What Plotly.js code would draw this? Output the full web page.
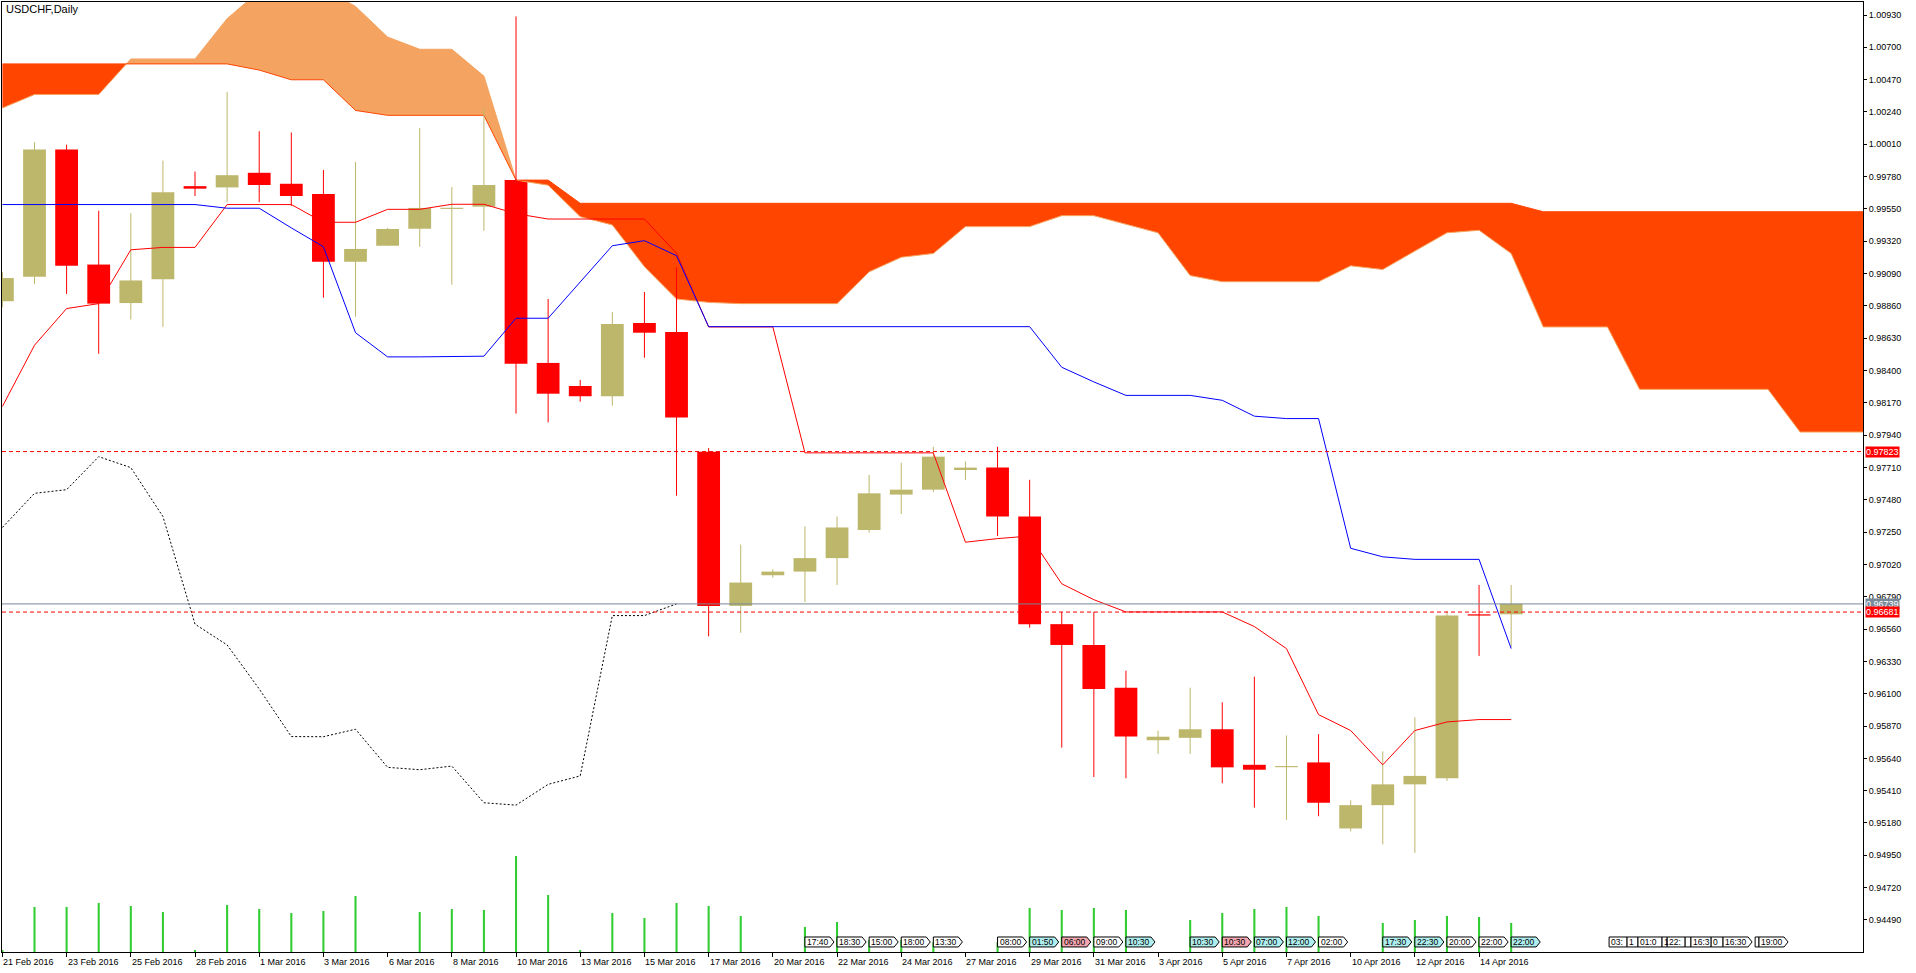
<!DOCTYPE html>
<html><head><meta charset="utf-8">
<script src="https://cdn.plot.ly/plotly-3.0.1.min.js"></script>
<style>html,body{margin:0;padding:0;background:#fff;overflow:hidden}#chart{width:1916px;height:973px}</style>
</head><body><div id="chart"></div>
<script>
const chartTitle = "USDCHF,Daily";
const barDates = ["21 Feb 2016","22 Feb 2016","23 Feb 2016","24 Feb 2016","25 Feb 2016","26 Feb 2016","28 Feb 2016","29 Feb 2016",
 "1 Mar 2016","2 Mar 2016","3 Mar 2016","4 Mar 2016","6 Mar 2016","7 Mar 2016","8 Mar 2016","9 Mar 2016","10 Mar 2016","11 Mar 2016",
 "13 Mar 2016","14 Mar 2016","15 Mar 2016","16 Mar 2016","17 Mar 2016","18 Mar 2016","20 Mar 2016","21 Mar 2016","22 Mar 2016",
 "23 Mar 2016","24 Mar 2016","25 Mar 2016","27 Mar 2016","28 Mar 2016","29 Mar 2016","30 Mar 2016","31 Mar 2016","1 Apr 2016",
 "3 Apr 2016","4 Apr 2016","5 Apr 2016","6 Apr 2016","7 Apr 2016","8 Apr 2016","10 Apr 2016","11 Apr 2016","12 Apr 2016",
 "13 Apr 2016","14 Apr 2016","15 Apr 2016"];
const openP  = [0.98893,0.99067,0.99972,0.99154,0.98880,0.99050,0.99712,0.99703,0.99807,0.99729,0.99656,0.99174,0.99288,0.99409,0.99550,0.99566,
 0.99756,0.98454,0.98290,0.98217,0.98738,0.98674,0.97822,0.96725,0.96943,0.96969,0.97065,0.97265,0.97517,0.97552,0.97692,0.97709,
 0.97361,0.96595,0.96447,0.96143,0.95769,0.95786,0.95847,0.95594,0.95577,0.95611,0.95141,0.95307,0.95455,0.95498,0.96665,0.96665];
const highP  = [0.99100,1.00025,1.00007,0.99537,0.99520,0.99894,0.99816,1.00382,1.00103,1.00094,0.99827,0.99884,0.99414,1.00126,0.99706,1.00268,
 1.00920,0.98909,0.98333,0.98816,0.98959,0.99135,0.97848,0.97161,0.96987,0.97291,0.97361,0.97657,0.97744,0.97857,0.97753,0.97857,
 0.97622,0.96682,0.96682,0.96264,0.95838,0.96143,0.96039,0.96221,0.95803,0.95812,0.95342,0.95690,0.95933,0.96690,0.96874,0.96874];
const lowP   = [0.98850,0.99015,0.98945,0.98519,0.98763,0.98711,0.99642,0.99598,0.99598,0.99572,0.98918,0.98783,0.99288,0.99281,0.99011,0.99395,
 0.98093,0.98031,0.98178,0.98150,0.98491,0.97509,0.96508,0.96534,0.96926,0.96752,0.96874,0.97248,0.97379,0.97535,0.97622,0.97222,
 0.96570,0.95716,0.95507,0.95498,0.95672,0.95672,0.95463,0.95289,0.95202,0.95228,0.95120,0.95028,0.94967,0.95480,0.96369,0.96430];
const closeP = [0.99058,0.99972,0.99146,0.98876,0.99041,0.99668,0.99694,0.99790,0.99720,0.99642,0.99174,0.99265,0.99407,0.99557,0.99557,0.99720,
 0.98449,0.98235,0.98217,0.98731,0.98669,0.98066,0.96725,0.96891,0.96969,0.97065,0.97283,0.97526,0.97552,0.97787,0.97709,0.97361,
 0.96595,0.96447,0.96134,0.95795,0.95794,0.95847,0.95576,0.95559,0.95585,0.95324,0.95307,0.95455,0.95515,0.96656,0.96656,0.96739];
const volumes = [2000,45000,45000,49000,46000,40000,2000,47000,43000,39000,41000,56000,0,40000,43000,42000,96000,57000,2000,39000,34000,49000,
 46000,36000,0,25000,30000,12000,12000,10000,0,10000,44000,42000,44000,42000,0,32000,39000,43000,45000,36000,0,29000,32000,36000,35000,29000];
const tenkan = [0.98144,0.98580,0.98841,0.98876,0.99259,0.99276,0.99276,0.99581,0.99581,0.99581,0.99455,0.99455,0.99547,0.99547,0.99583,0.99583,
 0.99516,0.99478,0.99478,0.99478,0.99478,0.99234,0.98710,0.98710,0.98710,0.97814,0.97814,0.97814,0.97814,0.97814,0.97178,0.97204,
 0.97222,0.96882,0.96769,0.96682,0.96682,0.96682,0.96682,0.96578,0.96421,0.95951,0.95838,0.95594,0.95838,0.95899,0.95916,0.95916];
const kijun  = [0.99581,0.99581,0.99581,0.99581,0.99581,0.99581,0.99581,0.99555,0.99555,0.99415,0.99281,0.98669,0.98497,0.98497,0.98497,0.98502,
 0.98772,0.98772,0.99030,0.99288,0.99324,0.99217,0.98712,0.98712,0.98712,0.98712,0.98712,0.98712,0.98712,0.98712,0.98712,0.98712,
 0.98712,0.98423,0.98319,0.98223,0.98223,0.98223,0.98188,0.98075,0.98058,0.98058,0.97135,0.97074,0.97056,0.97056,0.97056,0.96421];
const chikou = [0.97283,0.97526,0.97552,0.97787,0.97709,0.97361,0.96595,0.96447,0.96134,0.95795,0.95794,0.95847,0.95576,0.95559,0.95585,0.95324,
 0.95307,0.95455,0.95515,0.96656,0.96656,0.96739];
const spanA  = [1.00268,1.00364,1.00364,1.00364,1.00617,1.00617,1.00617,1.00904,1.01100,1.01120,1.01120,1.00991,1.00773,1.00686,1.00686,1.00495,
 0.99755,0.99719,0.99495,0.99436,0.99139,0.98909,0.98885,0.98876,0.98876,0.98876,0.98876,0.99102,0.99206,0.99233,0.99424,0.99424,
 0.99424,0.99502,0.99502,0.99441,0.99380,0.99076,0.99032,0.99032,0.99032,0.99032,0.99145,0.99119,0.99250,0.99380,0.99398,0.99233,
 0.98710,0.98710,0.98710,0.98266,0.98266,0.98266,0.98266,0.98266,0.97962,0.97962,0.97962];
const spanB  = [1.00582,1.00582,1.00582,1.00582,1.00582,1.00582,1.00582,1.00582,1.00538,1.00469,1.00469,1.00251,1.00216,1.00216,1.00216,1.00216,
 0.99755,0.99755,0.99590,0.99590,0.99590,0.99590,0.99590,0.99590,0.99590,0.99590,0.99590,0.99590,0.99590,0.99590,0.99590,0.99590,
 0.99590,0.99590,0.99590,0.99590,0.99590,0.99590,0.99590,0.99590,0.99590,0.99590,0.99590,0.99590,0.99590,0.99590,0.99590,0.99590,
 0.99530,0.99530,0.99530,0.99530,0.99530,0.99530,0.99530,0.99530,0.99530,0.99530,0.99530];
const priceTicks = [1.00930,1.00700,1.00470,1.00240,1.00010,0.99780,0.99550,0.99320,0.99090,0.98860,0.98630,0.98400,0.98170,0.97940,
 0.97710,0.97480,0.97250,0.97020,0.96790,0.96560,0.96330,0.96100,0.95870,0.95640,0.95410,0.95180,0.94950,0.94720,0.94490];
const levelLines = [0.97823, 0.96681];
const bidPrice = 0.96739;
const eventBar  = [25,26,27,28,29,31,32,33,34,35,37,38,39,40,41,43,44,45,46,47,50.05,50.61,50.95,51.70,51.86,52.42,52.60,53.23,53.60,54.60,54.72];
const eventText = ["17:40","18:30","15:00","18:00","13:30","08:00","01:50","06:00","09:00","10:30","10:30","10:30","07:00","12:00","02:00",
 "17:30","22:30","20:00","22:00","22:00","03:","1","01:0","1","22:","","16:3","0","16:30","","19:00"];
const eventLevel = ["low","low","low","low","low","low","mid","high","low","mid","mid","high","mid","mid","low","mid","mid","low","low","mid",
 "low","low","low","low","low","low","low","low","low","low","low"];

const BULL = '#BDB76B', BEAR = '#FF0000';
const FONT = 'Liberation Sans, Arial, sans-serif';
const traces = [];
const idx = closeP.map((_, i) => i);

// cloud
(function(){
  const xs = [], ya = [], yb = [];
  for (let i = 0; i < spanA.length; i++) {
    xs.push(i); ya.push(spanA[i]); yb.push(spanB[i]);
    if (i < spanA.length - 1) {
      const d0 = spanA[i] - spanB[i], d1 = spanA[i+1] - spanB[i+1];
      if (d0 * d1 < 0) {
        const t = d0 / (d0 - d1);
        const v = spanA[i] + t * (spanA[i+1] - spanA[i]);
        xs.push(i + t); ya.push(v); yb.push(v);
      }
    }
  }
  const top = ya.map((v, k) => Math.max(v, yb[k]));
  const base = {mode:'lines', line:{width:0}, hoverinfo:'skip'};
  traces.push(Object.assign({x:xs, y:yb}, base));
  traces.push(Object.assign({x:xs, y:top, fill:'tonexty', fillcolor:'#F4A460'}, base));
  traces.push(Object.assign({x:xs, y:ya}, base));
  traces.push(Object.assign({x:xs, y:top, fill:'tonexty', fillcolor:'#FF4500'}, base));
  const sx = spanA.map((_, i) => i);
  traces.push({x:sx, y:spanA, mode:'lines', line:{color:'#F4A460', width:1}, hoverinfo:'skip'});
  traces.push({x:sx, y:spanB, mode:'lines', line:{color:'#FF4500', width:1}, hoverinfo:'skip'});
})();

// candle bodies
const minBody = 0.00008;
traces.push({
  type:'bar', x:idx,
  base: idx.map(i => Math.min(openP[i], closeP[i])),
  y: idx.map(i => Math.max(Math.abs(closeP[i] - openP[i]), minBody)),
  width: 0.71,
  marker:{color: idx.map(i => closeP[i] >= openP[i] ? BULL : BEAR), line:{width:0}},
  hoverinfo:'skip'
});
// wicks
['bull','bear'].forEach(kind => {
  const wx = [], wy = [];
  idx.forEach(i => {
    const bull = closeP[i] >= openP[i];
    if ((kind === 'bull') === bull) { wx.push(i, i, null); wy.push(lowP[i], highP[i], null); }
  });
  traces.push({x:wx, y:wy, mode:'lines', line:{color: kind === 'bull' ? BULL : BEAR, width:1}, hoverinfo:'skip'});
});
// indicator lines
traces.push({x:idx, y:tenkan, mode:'lines', line:{color:'#FF0000', width:1}, hoverinfo:'skip'});
traces.push({x:idx, y:kijun, mode:'lines', line:{color:'#0000FF', width:1}, hoverinfo:'skip'});
traces.push({x:chikou.map((_, i) => i), y:chikou, mode:'lines', line:{color:'#000000', width:1, dash:'2px,2px'}, hoverinfo:'skip'});
// volumes
traces.push({type:'bar', x:idx, y:volumes, yaxis:'y2', width:0.065, marker:{color:'#32CD32', line:{width:0}}, hoverinfo:'skip'});

const annotations = [];
const shapes = [];

// date labels
for (let i = 0; i < barDates.length; i += 2) {
  annotations.push({x:i, y:0, xref:'x', yref:'paper', xanchor:'left', yanchor:'top', yshift:-3, xshift:-1,
    text:barDates[i], showarrow:false, font:{family:FONT, size:9, color:'#000'}});
}
// title
annotations.push({x:0.001, y:0.9926, xref:'paper', yref:'paper', xanchor:'left', yanchor:'middle', text:chartTitle,
  showarrow:false, font:{family:FONT, size:11, color:'#000'}});

// horizontal lines
levelLines.forEach(p => shapes.push({type:'line', xref:'paper', yref:'y', x0:0, x1:1, y0:p, y1:p,
  line:{color:'#FF0000', width:1, dash:'4px,3px'}}));
shapes.push({type:'line', xref:'paper', yref:'y', x0:0, x1:1, y0:bidPrice, y1:bidPrice, line:{color:'#778899', width:1}});

// price labels
function priceLabel(p, bg){
  annotations.push({x:1, y:p, xref:'paper', yref:'y', xanchor:'left', yanchor:'middle', xshift:2, text:p.toFixed(5),
    showarrow:false, bgcolor:bg, borderpad:0, font:{family:FONT, size:9, color:'#fff'}});
}
priceLabel(levelLines[0], '#FF0000');
priceLabel(bidPrice, '#778899');
priceLabel(levelLines[1], '#FF0000');

// event boxes
const levelColor = {low:'#FFFFFF', mid:'#AFEEEE', high:'#F4A7B0'};
const boxW = 0.78, tipW = 0.125;
const yTop = 0.0158, yBot = 0.0053, yMid = (yTop + yBot) / 2;
eventBar.forEach((x0, k) => {
  const next = k < eventBar.length - 1 ? eventBar[k+1] : Infinity;
  const full = boxW + tipW;
  let path;
  if (next - x0 >= full) {
    const x1 = x0 + boxW, xt = x0 + full;
    path = `M ${x0},${yBot} L ${x1},${yBot} L ${xt},${yMid} L ${x1},${yTop} L ${x0},${yTop} Z`;
  } else {
    const x1 = next;
    path = `M ${x0},${yBot} L ${x1},${yBot} L ${x1},${yTop} L ${x0},${yTop} Z`;
  }
  shapes.push({type:'path', xref:'x', yref:'paper', path, fillcolor:levelColor[eventLevel[k]], line:{color:'#000', width:1}, layer:'above'});
  if (eventText[k]) annotations.push({x:x0, y:yMid, xref:'x', yref:'paper', xanchor:'left', yanchor:'middle', xshift:1,
    text:eventText[k], showarrow:false, borderpad:0, font:{family:FONT, size:8.5, color:'#000'}});
});

const layout = {
  width:1916, height:973,
  margin:{l:2, r:53, t:2, b:21, pad:0},
  paper_bgcolor:'#fff', plot_bgcolor:'#fff',
  showlegend:false, hovermode:false, barmode:'overlay',
  xaxis:{range:[-0.0125, 57.96], showgrid:false, zeroline:false, showline:true, mirror:true, linecolor:'#000', linewidth:1,
    tickmode:'array', tickvals:barDates.map((_, i) => i).filter(i => i % 2 === 0), ticks:'outside', ticklen:4, tickcolor:'#000',
    showticklabels:false, fixedrange:true},
  yaxis:{range:[0.942619, 1.010225], side:'right', showgrid:false, zeroline:false, showline:true, mirror:true, linecolor:'#000', linewidth:1,
    tickmode:'array', tickvals:priceTicks, ticktext:priceTicks.map(v => v.toFixed(5)), ticks:'outside', ticklen:3, tickcolor:'#000',
    tickfont:{family:FONT, size:9, color:'#000'}, fixedrange:true},
  yaxis2:{overlaying:'y', range:[0, 950000], visible:false, fixedrange:true},
  annotations, shapes
};
Plotly.newPlot('chart', traces, layout, {displayModeBar:false, staticPlot:true});
</script>
</body></html>
